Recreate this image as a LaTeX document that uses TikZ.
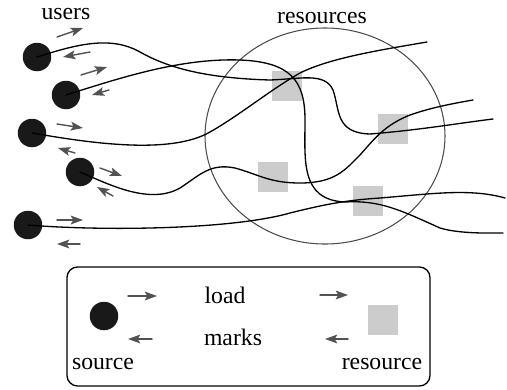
\documentclass[tikz,border=0pt]{standalone}
\usepackage{fontspec}
\newfontfamily\labelfont{Liberation Serif}
\usetikzlibrary{arrows.meta}
\tikzset{
  user/.style={circle, fill=black!90, minimum size=0.57cm, inner sep=0pt},
  res/.style={fill=black!20, minimum size=0.59cm, inner sep=0pt},
  flow/.style={black!68, line width=0.8pt, -{Stealth[length=7pt,width=5pt,inset=1.5pt]}},
  route/.style={line width=0.75pt},
  lbl/.style={anchor=base, inner sep=0pt, font=\labelfont\fontsize{13.5}{16}\selectfont}
}
\begin{document}
\begin{tikzpicture}[x=0.02cm, y=-0.02cm, line join=round, line cap=round]
\useasboundingbox (0,0) rectangle (507,389);
% the resource pool
\draw[black!70, line width=0.6pt] (325,136) ellipse (120 and 108);
\node[lbl] (restxt) at (322,23) {resources};
\node[lbl] (usertxt) at (66,19) {users};
\node[res] (r1) at (287,86) {};
\node[res] (r2) at (393,129) {};
\node[res] (r3) at (273,177) {};
\node[res] (r4) at (368,201) {};
% users
\node[user] (u1) at (37,57) {};
\node[user] (u2) at (66,95) {};
\node[user] (u3) at (32,133) {};
\node[user] (u4) at (80,172) {};
\node[user] (u5) at (28,225) {};
% routes of the users through the pool
\coordinate (e1) at (493,119);
\coordinate (e2) at (503,233);
\coordinate (e3) at (427,42);
\coordinate (e4) at (473,100);
\coordinate (e5) at (505,198);
\draw[route] (u1.center) .. controls (75,45) and (110,35) .. (140,52)
  .. controls (165,66) and (200,78) .. (270,80)
  .. controls (300,79) and (325,72) .. (333,90)
  .. controls (340,110) and (335,133) .. (370,134)
  .. controls (420,130) and (460,123) .. (e1);
\draw[route] (u2.center) .. controls (120,78) and (180,58) .. (240,60)
  .. controls (290,62) and (305,80) .. (305,120)
  .. controls (305,160) and (300,200) .. (345,202)
  .. controls (380,200) and (400,210) .. (440,228)
  .. controls (460,234) and (490,233) .. (e2);
\draw[route] (u3.center) .. controls (90,143) and (170,155) .. (210,132)
  .. controls (240,115) and (270,90) .. (300,73)
  .. controls (330,58) and (380,50) .. (e3);
\draw[route] (u4.center) .. controls (110,185) and (150,205) .. (180,188)
  .. controls (200,175) and (210,163) .. (235,168)
  .. controls (260,175) and (270,183) .. (300,183)
  .. controls (335,183) and (345,170) .. (360,155)
  .. controls (375,138) and (385,125) .. (410,115)
  .. controls (430,108) and (450,104) .. (e4);
\draw[route] (u5.center) .. controls (100,231) and (230,230) .. (290,213)
  .. controls (330,203) and (350,200) .. (380,198)
  .. controls (430,194) and (470,188) .. (e5);
% load out, marks back
\draw[flow] (57,37) -- (83,28);
\draw[flow] (90,52) -- (63,57);
\draw[flow] (81,75) -- (107,67);
\draw[flow] (109,90) -- (92,95);
\draw[flow] (57,124) -- (83,128);
\draw[flow] (75,153) -- (58,148);
\draw[flow] (100,168) -- (122,176);
\draw[flow] (113,196) -- (97,187);
\draw[flow] (57,220) -- (83,220);
\draw[flow] (80,244) -- (57,244);
% legend
\draw[rounded corners=6pt, line width=0.75pt] (67,267) rectangle (430,386);
\node[user] (lu) at (104,316) {};
\node[res] (lr) at (383,320) {};
\draw[flow] (128,296) -- (157,296);
\draw[flow] (152,339) -- (128,339);
\draw[flow] (320,295) -- (348,295);
\draw[flow] (348,339) -- (325,339);
\node[lbl] (lload) at (225,303) {load};
\node[lbl] (lmarks) at (233,345) {marks};
\node[lbl] (lsrc) at (103,369) {source};
\node[lbl] (lres) at (382,369) {resource};
\end{tikzpicture}
\end{document}
